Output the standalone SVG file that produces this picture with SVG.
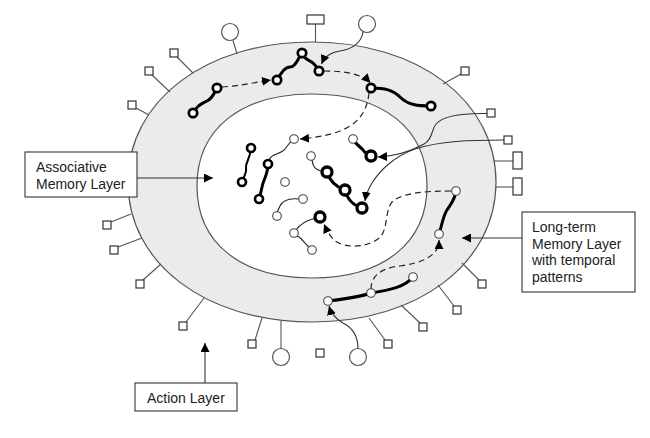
<svg xmlns="http://www.w3.org/2000/svg" width="650" height="438" viewBox="0 0 650 438">
<style>
.ring{fill:#ebebeb;stroke:#555;stroke-width:1.2}
.inner{fill:#fff;stroke:#555;stroke-width:1.2}
.stalk{stroke:#555;stroke-width:1.1;fill:none}
.sq{fill:#fff;stroke:#333;stroke-width:1.2}
.oc{fill:#fff;stroke:#555;stroke-width:1.2}
.thick{fill:none;stroke:#000;stroke-width:3;stroke-linecap:round}
.med{fill:none;stroke:#000;stroke-width:2;stroke-linecap:round}
.thin{fill:none;stroke:#222;stroke-width:1.1}
.nb{fill:#fff;stroke:#000;stroke-width:2.7}
.nB{fill:#fff;stroke:#000;stroke-width:3.3}
.nt{fill:#fff;stroke:#444;stroke-width:1.1}
.dash{fill:none;stroke:#222;stroke-width:1.2;stroke-dasharray:6 4}
.arr{fill:none;stroke:#333;stroke-width:1.1}
.box{fill:#fff;stroke:#333;stroke-width:1.1}
.lbl{font-family:"Liberation Sans",Arial,sans-serif;font-size:14px;fill:#222}
</style>
<defs>
<marker id="ah" markerUnits="userSpaceOnUse" markerWidth="9" markerHeight="9" viewBox="0 0 10 10" refX="10" refY="5" orient="auto">
<path d="M0,0 L10,5 L0,10 z" fill="#000"/>
</marker>
</defs>

<g id="layers">
<path class="ring" d="M496,182 C496,263 418.7,322 312,322 C205.3,322 128,263 128,182 C128,101 205.3,42 312,42 C418.7,42 496,101 496,182 Z"/>
<path class="inner" d="M427,186 C427,243 383.3,278 312,278 C240.7,278 197,243 197,186 C197,129 240.7,94 312,94 C383.3,94 427,129 427,186 Z"/>
</g>

<g id="action-layer">
<g id="a1"><line class="stalk" x1="233" y1="40.5" x2="237" y2="54"/><circle class="oc" cx="230" cy="32" r="8.5"/></g>
<g id="a2"><line class="stalk" x1="177" y1="57" x2="193" y2="73"/><rect class="sq" x="170" y="49" width="8" height="8"/></g>
<g id="a3"><line class="stalk" x1="152" y1="75" x2="170" y2="92"/><rect class="sq" x="145" y="67" width="8" height="8"/></g>
<g id="a4"><line class="stalk" x1="136" y1="108" x2="149" y2="115"/><rect class="sq" x="128" y="101" width="8" height="8"/></g>
<g id="a5"><line class="stalk" x1="111" y1="222" x2="131" y2="214"/><rect class="sq" x="103" y="221" width="8" height="8"/></g>
<g id="a6"><line class="stalk" x1="118" y1="247" x2="142" y2="238"/><rect class="sq" x="110" y="246" width="8" height="8"/></g>
<g id="a7"><line class="stalk" x1="143" y1="280" x2="161" y2="264"/><rect class="sq" x="136" y="280" width="8" height="8"/></g>
<g id="a8"><line class="stalk" x1="186" y1="322" x2="204" y2="298"/><rect class="sq" x="179" y="322" width="8" height="8"/></g>
<g id="a9"><line class="stalk" x1="255" y1="340" x2="262" y2="318"/><rect class="sq" x="248" y="340" width="8" height="8"/></g>
<g id="a10"><line class="stalk" x1="281" y1="348.5" x2="281" y2="321"/><circle class="oc" cx="281" cy="357" r="8.5"/></g>
<g id="a11"><rect class="sq" x="316" y="349" width="8" height="8"/></g>
<g id="a12"><circle class="oc" cx="358" cy="357" r="8.5"/></g>
<g id="a13"><line class="stalk" x1="385" y1="340" x2="369" y2="318"/><rect class="sq" x="384" y="340" width="8" height="8"/></g>
<g id="a14"><line class="stalk" x1="420" y1="323" x2="401" y2="305"/><rect class="sq" x="419" y="323" width="8" height="8"/></g>
<g id="a15"><line class="stalk" x1="454" y1="306" x2="438" y2="285"/><rect class="sq" x="453" y="306" width="8" height="8"/></g>
<g id="a16"><line class="stalk" x1="479" y1="280" x2="462" y2="263"/><rect class="sq" x="478" y="280" width="8" height="8"/></g>
<g id="a17"><line class="stalk" x1="494" y1="161" x2="513" y2="161"/><rect class="sq" x="513" y="152" width="9" height="17"/></g>
<g id="a18"><line class="stalk" x1="496" y1="187" x2="513" y2="187"/><rect class="sq" x="513" y="178" width="9" height="17"/></g>
<g id="a19"><rect class="sq" x="504" y="136" width="8" height="8"/></g>
<g id="a20"><rect class="sq" x="487" y="109" width="8" height="8"/></g>
<g id="a21"><line class="stalk" x1="461" y1="74" x2="443" y2="84"/><rect class="sq" x="461" y="67" width="8" height="8"/></g>
<g id="a22"><circle class="oc" cx="367" cy="24" r="8.5"/></g>
<g id="a23"><line class="stalk" x1="315.5" y1="24" x2="315.5" y2="42"/><rect class="sq" x="307" y="15" width="17" height="9"/></g>
</g>

<g id="connectors">
<path class="dash" marker-end="url(#ah)" d="M222,87 C238,86 252,83 271,80"/>
<path class="dash" marker-end="url(#ah)" d="M324,71 C345,71 362,74 370.5,83"/>
<path class="dash" marker-end="url(#ah)" d="M369,93 C367,112 358,124 340,131 C327,136 312,138 300,139"/>
<path class="dash" marker-end="url(#ah)" d="M451,191 C425,191 403,193 393,201 C385,208 388,228 381,236 C372,247 345,250 334,240 C330,236 327,231 324,224"/>
<path class="dash" marker-end="url(#ah)" d="M371,289 C371,276 381,268 400,266 C420,263 433,258 438,247 C439,245 439,243 439,240"/>
<path class="arr" marker-end="url(#ah)" d="M363,32 C361,44 352,49 340,51 C330,53 325,56 321.5,64"/>
<path class="arr" marker-end="url(#ah)" d="M358,348.5 C358,336 353,328 343,323 C336,319 331,313 329,306"/>
<path class="arr" marker-end="url(#ah)" d="M487,113.5 C460,113 442,117 436,124 C431,130 433,139 424,144 C413,150 398,156 378,157"/>
<path class="arr" marker-end="url(#ah)" d="M504,140 C470,140 440,141 415,149 C395,156 380,170 372,183 C369,188 366,194 365,201"/>
<path class="thin" d="M269,160 C272,153 280,155 285,149 C288,145 290,142 291,142"/>
<path class="thin" d="M299,199 C290,198 283,200 280,206 C278,210 277,213 277,212"/>
<path class="thin" d="M316,218 C308,220 300,224 296,230"/>
<path class="thin" d="M297,236 C302,238 304,243 309,247"/>
<path class="thin" d="M312,160 C313,168 318,171 323,171"/>
</g>

<g id="long-term-memory">
<g id="chain-a"><path class="thick" d="M193,113 C198,104 203,103 207,101 C213,98 214,93 217,88"/><circle class="nb" cx="193" cy="113" r="4.2"/><circle class="nb" cx="217" cy="88" r="4.2"/></g>
<g id="chain-b"><path class="thick" d="M277,80 C282,72 285,67 290,67 C296,67 298,58 302,53 C304,60 310,60 313,63 C316,66 318,68 319,71"/><circle class="nb" cx="277" cy="80" r="4.2"/><circle class="nb" cx="302" cy="53" r="4.2"/><circle class="nb" cx="319" cy="71" r="4.2"/></g>
<g id="chain-c"><path class="thick" d="M371,88 C385,88 393,90 400,97 C408,105 418,106 431,106"/><circle class="nb" cx="371" cy="88" r="4.2"/><circle class="nb" cx="431" cy="106" r="4.2"/></g>
<g id="chain-d"><path class="thick" d="M456,191 C455,200 450,205 447,210 C443,216 442,225 439,234"/><circle class="nt" cx="456" cy="191" r="4.3"/><circle class="nt" cx="439" cy="234" r="4.3"/></g>
<g id="chain-e"><path class="thick" d="M328,301 C345,299 360,297 371,293 C390,290 405,287 413,277"/><circle class="nt" cx="328" cy="301" r="4.3"/><circle class="nt" cx="371" cy="293" r="4.3"/><circle class="nt" cx="413" cy="277" r="4.3"/></g>
</g>

<g id="associative-memory">
<g id="p1"><path class="med" d="M251,148 C250,160 245,163 246,168 C247,173 243,178 242,182"/><circle class="nb" cx="251" cy="148" r="4"/><circle class="nb" cx="242" cy="182" r="4"/></g>
<g id="p2"><path class="thick" d="M268,164 C268,175 263,180 262,187 C261,192 260,196 259,199"/><circle class="nb" cx="268" cy="164" r="4"/><circle class="nb" cx="259" cy="199" r="4"/></g>
<g id="p3"><circle class="nt" cx="294" cy="139" r="4.3"/></g>
<g id="p4"><circle class="nt" cx="285" cy="182" r="4.3"/></g>
<g id="p5"><circle class="nt" cx="303" cy="199" r="4.3"/><circle class="nt" cx="277" cy="216" r="4.3"/></g>
<g id="p6"><circle class="nB" cx="320" cy="217" r="5"/><circle class="nt" cx="294" cy="233" r="4.3"/><circle class="nt" cx="312" cy="250" r="4.3"/></g>
<g id="p7"><path class="thick" d="M327,172 C330,182 336,187 345,190 C347,198 352,205 362,208"/><circle class="nt" cx="311" cy="156" r="4.3"/><circle class="nB" cx="327" cy="172" r="5"/><circle class="nB" cx="345" cy="190" r="5"/><circle class="nB" cx="362" cy="208" r="5"/></g>
<g id="p8"><path class="thick" d="M353,139 C356,145 361,147 363,150 C365,153 368,155 371,156"/><circle class="nt" cx="353" cy="139" r="4.3"/><circle class="nB" cx="371" cy="156" r="5"/></g>
</g>

<g id="label-associative">
<rect class="box" x="25" y="152" width="112" height="45"/>
<text class="lbl" x="36" y="172">Associative</text>
<text class="lbl" x="36" y="189">Memory Layer</text>
<line class="arr" x1="137" y1="178" x2="213" y2="178" marker-end="url(#ah)"/>
</g>
<g id="label-longterm">
<rect class="box" x="522" y="212" width="113" height="80"/>
<text class="lbl" x="532" y="232">Long-term</text>
<text class="lbl" x="532" y="248.7">Memory Layer</text>
<text class="lbl" x="532" y="265.4">with temporal</text>
<text class="lbl" x="532" y="282">patterns</text>
<line class="arr" x1="522" y1="238" x2="462" y2="238" marker-end="url(#ah)"/>
</g>
<g id="label-action">
<rect class="box" x="135" y="383" width="102" height="28"/>
<text class="lbl" x="147" y="403">Action Layer</text>
<line class="arr" x1="205" y1="383" x2="205" y2="343" marker-end="url(#ah)"/>
</g>
</svg>
